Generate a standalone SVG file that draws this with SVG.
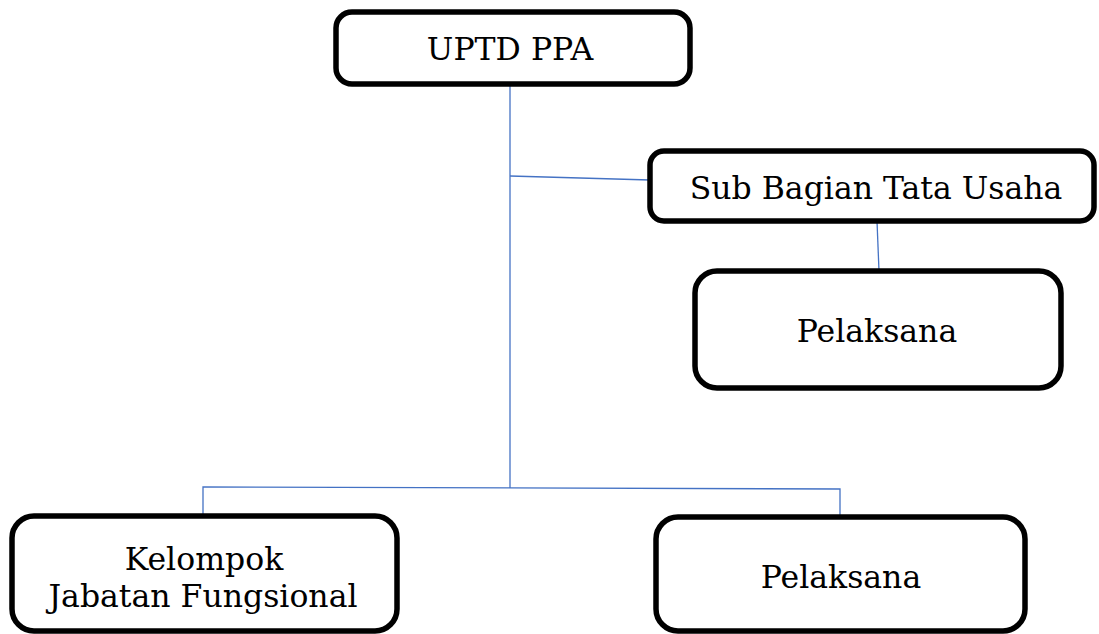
<svg xmlns="http://www.w3.org/2000/svg" width="1099" height="634" viewBox="0 0 1099 634">
<style>
.box{fill:#fff;stroke:#000;stroke-width:5.5}
.t{font-family:"DejaVu Serif","Liberation Serif",serif;font-size:31.5px;fill:#000;text-anchor:middle}
.c{stroke:#4472C4;stroke-width:1.3;fill:none}
</style>
<rect width="1099" height="634" fill="#fff"/>
<g id="connectors">
<line class="c" x1="510" y1="84" x2="510" y2="488"/>
<line class="c" x1="510" y1="176" x2="650" y2="180"/>
<line class="c" x1="877" y1="221" x2="879" y2="271"/>
<polyline class="c" points="203,516 203,487 840,489 840,517"/>
</g>
<g id="uptd">
<rect class="box" x="336" y="12" width="354" height="72" rx="16"/>
<text class="t" x="510" y="60">UPTD PPA</text>
</g>
<g id="subbag">
<rect class="box" x="650" y="151" width="444" height="70" rx="14"/>
<text class="t" x="876" y="199">Sub Bagian Tata Usaha</text>
</g>
<g id="pelaksana1">
<rect class="box" x="695" y="271" width="366" height="117" rx="22"/>
<text class="t" x="877" y="342">Pelaksana</text>
</g>
<g id="kelompok">
<rect class="box" x="12" y="516" width="385" height="115" rx="22"/>
<text class="t" x="204" y="570">Kelompok</text>
<text class="t" x="203" y="607">Jabatan Fungsional</text>
</g>
<g id="pelaksana2">
<rect class="box" x="656" y="517" width="369" height="114" rx="22"/>
<text class="t" x="841" y="588">Pelaksana</text>
</g>
</svg>
